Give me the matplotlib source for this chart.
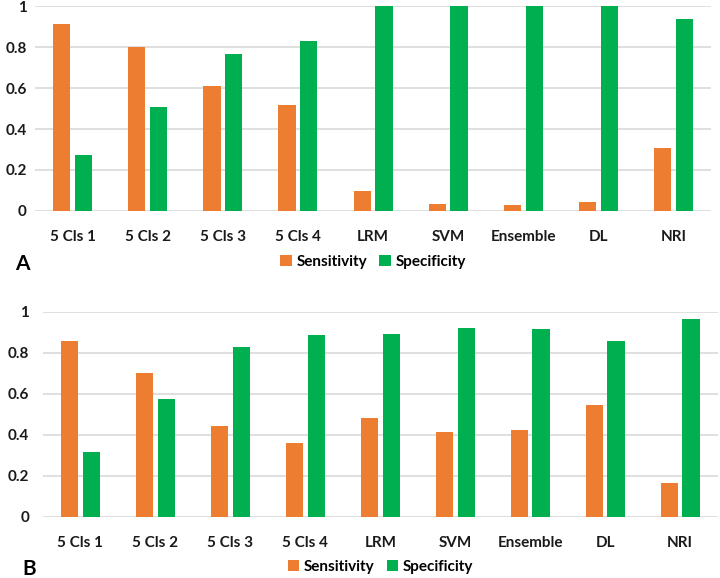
import matplotlib.pyplot as plt
import numpy as np

plt.rcParams['font.family'] = ['Lato', 'DejaVu Sans']
plt.rcParams['font.weight'] = 'bold'

categories = ['5 Cls 1', '5 Cls 2', '5 Cls 3', '5 Cls 4', 'LRM', 'SVM', 'Ensemble', 'DL', 'NRI']

# panel A
sensA = [0.912, 0.798, 0.61, 0.519, 0.099, 0.034, 0.029, 0.042, 0.307]
specA = [0.272, 0.506, 0.766, 0.831, 0.998, 1.0, 1.0, 1.0, 0.938]

# panel B
sensB = [0.859, 0.702, 0.442, 0.358, 0.48, 0.415, 0.423, 0.545, 0.163]
specB = [0.317, 0.572, 0.826, 0.886, 0.891, 0.922, 0.914, 0.857, 0.963]

orange = '#ED7D31'
green = '#00B050'

fig = plt.figure(figsize=(7.2, 5.78), dpi=100)
axA = fig.add_axes([0.0486, 0.635, 0.939, 0.3545])
axB = fig.add_axes([0.0597, 0.106, 0.937, 0.3547])

x = np.arange(len(categories))
w = 0.23

def draw(ax, sens, spec, label, legend_y, ypad):
    ax.bar(x - 0.145, sens, w, color=orange, label='Sensitivity', zorder=3)
    ax.bar(x + 0.145, spec, w, color=green, label='Specificity', zorder=3)
    ax.set_xlim(-0.5, len(categories) - 0.5)
    ax.set_ylim(0, 1)
    ax.set_yticks([0, 0.2, 0.4, 0.6, 0.8, 1])
    ax.set_yticklabels(['0', '0.2', '0.4', '0.6', '0.8', '1'])
    ax.set_xticks(x)
    ax.set_xticklabels(categories)
    ax.grid(axis='y', color='#D9D9D9', linewidth=1.2, zorder=0)
    for s in ax.spines.values():
        s.set_visible(False)
    ax.tick_params(axis='both', length=0, labelsize=11, colors='#1a1a1a')
    ax.tick_params(axis='x', pad=14)
    ax.tick_params(axis='y', pad=ypad)
    ax.legend(loc='center', bbox_to_anchor=(0.5, legend_y), ncol=2, frameon=False,
              handlelength=0.75, handleheight=0.75, handletextpad=0.3, columnspacing=0.8,
              prop={'size': 11, 'weight': 'bold'})
    ax.text(-0.03, legend_y - 0.01, label, transform=ax.transAxes, fontsize=15,
            fontweight='bold', ha='left', va='center')

draw(axA, sensA, specA, 'A', -0.25, 6)
draw(axB, sensB, specB, 'B', -0.245, 10)

fig.savefig('out.png', dpi=100)
